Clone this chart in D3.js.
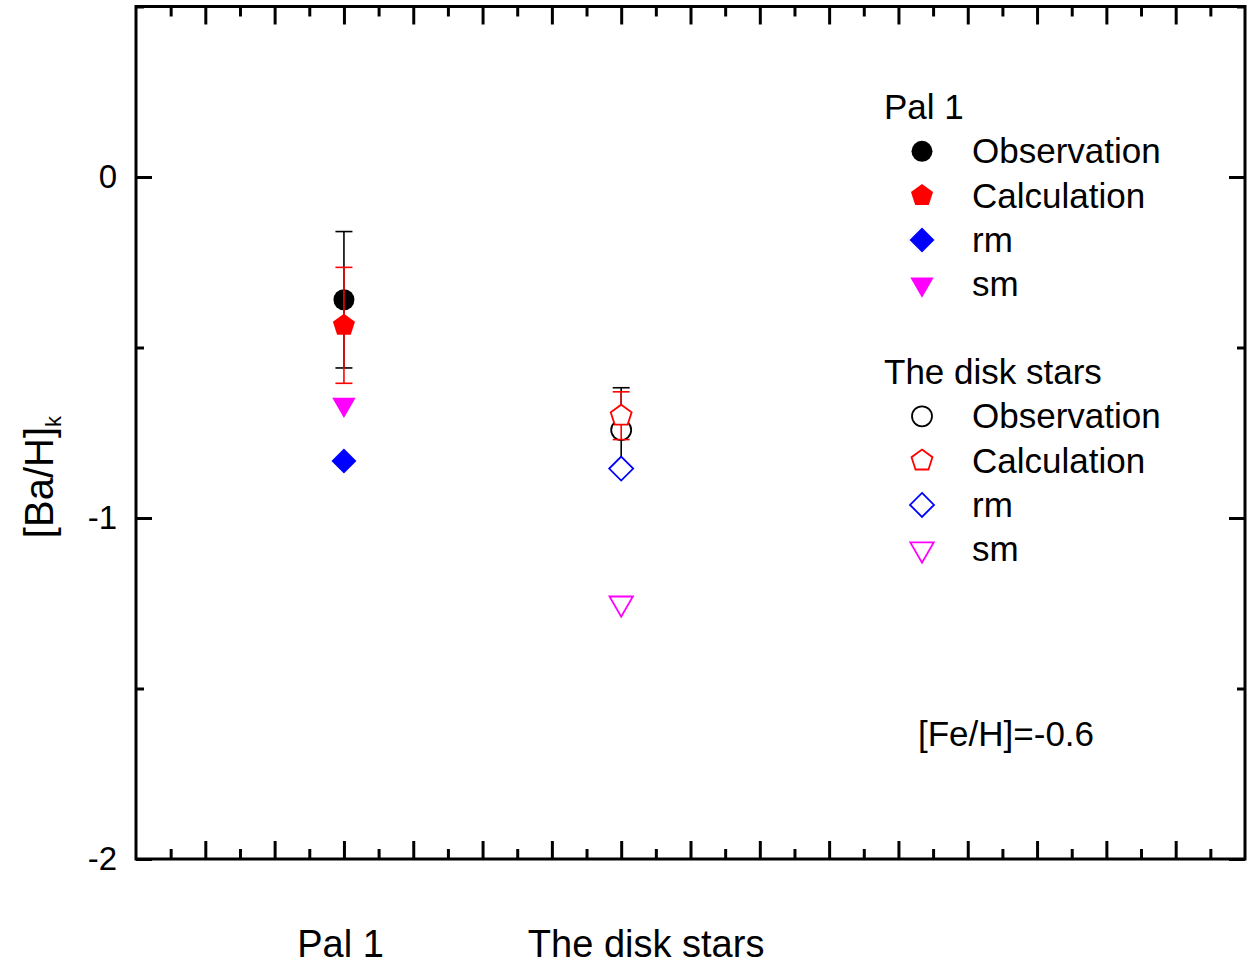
<!DOCTYPE html>
<html>
<head>
<meta charset="utf-8">
<script src="https://cdn.jsdelivr.net/npm/d3@7"></script>
<style>
  body { margin: 0; background: #fff; }
  text { font-family: Arial, "Liberation Sans", sans-serif; fill: #000; }
</style>
</head>
<body>
<script>
// data
var groups = ['Pal 1', 'The disk stars'];
var groupX = [3, 7];                 // position on the category axis
var obsVal  = [-0.36, -0.742];
var obsErr  = [0.20, 0.124];
var calcVal = [-0.435, -0.70];
var calcErr = [0.17, 0.07];
var rmVal   = [-0.833, -0.855];
var smVal   = [-0.667, -1.25];

var yTicks = [0, -1, -2];
var yMinor = [0.5, -0.5, -1.5];
var note = '[Fe/H]=-0.6';

var width = 1248, height = 965;
// plot box (note: "top" is a reserved window prop, so use plotT etc.)
var plotL = 136, plotR = 1245, plotT = 6.5, plotB = 859;

var x = d3.scaleLinear().domain([0, 16]).range([plotL, plotR]);
var y = d3.scaleLinear().domain([-2, 0.5]).range([plotB, plotT]);

var svg = d3.select('body').append('svg')
    .attr('width', width)
    .attr('height', height);

// custom marker shapes, size = radius in px
var pentagon = {
  draw: function(ctx, r) {
    for (var i = 0; i < 5; i++) {
      var a = -Math.PI / 2 + i * 2 * Math.PI / 5;
      if (i === 0) ctx.moveTo(r * Math.cos(a), r * Math.sin(a));
      else ctx.lineTo(r * Math.cos(a), r * Math.sin(a));
    }
    ctx.closePath();
  }
};
var diamond = {
  draw: function(ctx, r) {
    ctx.moveTo(0, -r); ctx.lineTo(r, 0); ctx.lineTo(0, r); ctx.lineTo(-r, 0); ctx.closePath();
  }
};
var triDown = {
  draw: function(ctx, r) {
    // r = circumradius, centroid at origin
    var h = r * Math.sqrt(3) / 2;
    ctx.moveTo(-h, -r / 2); ctx.lineTo(h, -r / 2); ctx.lineTo(0, r); ctx.closePath();
  }
};
var round = {
  draw: function(ctx, r) { ctx.moveTo(r, 0); ctx.arc(0, 0, r, 0, 2 * Math.PI); }
};

var series = [
  { name: 'Observation', vals: obsVal,  err: obsErr,  color: '#000000', type: round,    r: [10.5, 10] },
  { name: 'Calculation', vals: calcVal, err: calcErr, color: '#ff0000', type: pentagon, r: [11.6, 11] },
  { name: 'rm',          vals: rmVal,   err: null,    color: '#0000ff', type: diamond,  r: [12.5, 12] },
  { name: 'sm',          vals: smVal,   err: null,    color: '#ff00ff', type: triDown,  r: [13.5, 13.5] }
];

// frame
svg.append('rect')
    .attr('x', plotL).attr('y', plotT)
    .attr('width', plotR - plotL).attr('height', plotB - plotT)
    .attr('fill', 'none').attr('stroke', '#000').attr('stroke-width', 3);

// axes with inward ticks
function styleAxis(g) {
  g.select('.domain').remove();
  g.selectAll('.tick line').attr('stroke', '#000').attr('stroke-width', 3);
}
var xMajor = d3.range(1, 16), xMinor = d3.range(0.5, 16, 1);

svg.append('g').attr('transform', 'translate(0,' + plotB + ')')
    .call(d3.axisBottom(x).tickValues(xMajor).tickSize(-18).tickFormat(''))
    .call(styleAxis);
svg.append('g').attr('transform', 'translate(0,' + plotB + ')')
    .call(d3.axisBottom(x).tickValues(xMinor).tickSize(-10).tickFormat(''))
    .call(styleAxis);
svg.append('g').attr('transform', 'translate(0,' + plotT + ')')
    .call(d3.axisTop(x).tickValues(xMajor).tickSize(-18).tickFormat(''))
    .call(styleAxis);
svg.append('g').attr('transform', 'translate(0,' + plotT + ')')
    .call(d3.axisTop(x).tickValues(xMinor).tickSize(-10).tickFormat(''))
    .call(styleAxis);

svg.append('g').attr('transform', 'translate(' + plotL + ',0)')
    .call(d3.axisLeft(y).tickValues(yTicks).tickSize(-16).tickPadding(19)
        .tickFormat(function(d) { return String(d); }))
    .call(styleAxis)
    .selectAll('text').style('font-size', '33px').attr('font-family', null);
svg.append('g').attr('transform', 'translate(' + plotL + ',0)')
    .call(d3.axisLeft(y).tickValues(yMinor).tickSize(-8).tickFormat(''))
    .call(styleAxis);
svg.append('g').attr('transform', 'translate(' + plotR + ',0)')
    .call(d3.axisRight(y).tickValues(yTicks).tickSize(-16).tickFormat(''))
    .call(styleAxis);
svg.append('g').attr('transform', 'translate(' + plotR + ',0)')
    .call(d3.axisRight(y).tickValues(yMinor).tickSize(-8).tickFormat(''))
    .call(styleAxis);

// y label with subscript k
var ylab = svg.append('text')
    .attr('transform', 'translate(53,' + y(-0.88) + ') rotate(-90)')
    .attr('text-anchor', 'middle')
    .style('font-size', '40px');
ylab.append('tspan').text('[Ba/H]');
ylab.append('tspan').attr('dy', 8).style('font-size', '22px').text('k');

// category labels under the axis
var labelShift = [-0.05, 0.36];
svg.selectAll('.cat').data(groups).enter().append('text')
    .attr('class', 'cat')
    .attr('x', function(d, i) { return x(groupX[i] + labelShift[i]); })
    .attr('y', 957)
    .attr('text-anchor', 'middle')
    .style('font-size', '38px')
    .text(function(d) { return d; });

// points: error bars then markers, series by series
var cap = 8.5;
groups.forEach(function(g, gi) {
  var filled = gi === 0;
  series.forEach(function(s) {
    var cx = x(groupX[gi]), v = s.vals[gi];
    if (s.err) {
      var e = s.err[gi];
      var eb = svg.append('g').attr('stroke', s.color).attr('stroke-width', 1.6);
      eb.append('line').attr('x1', cx).attr('x2', cx).attr('y1', y(v + e)).attr('y2', y(v - e));
      eb.append('line').attr('x1', cx - cap).attr('x2', cx + cap).attr('y1', y(v + e)).attr('y2', y(v + e));
      eb.append('line').attr('x1', cx - cap).attr('x2', cx + cap).attr('y1', y(v - e)).attr('y2', y(v - e));
    }
    svg.append('path')
        .attr('transform', 'translate(' + cx + ',' + y(v) + ')')
        .attr('d', d3.symbol().type(s.type).size(s.r[gi])())
        .attr('fill', filled ? s.color : '#fff')
        .attr('stroke', s.color)
        .attr('stroke-width', filled ? 0 : 1.8);
  });
});

// legend
var legX = 884, symX = 922, txtX = 972, rowH = 44.3;
var legTops = [107, 372];
groups.forEach(function(g, gi) {
  var filled = gi === 0;
  svg.append('text').attr('x', legX).attr('y', legTops[gi] + 12)
      .style('font-size', '35px').text(g);
  series.forEach(function(s, si) {
    var cy = legTops[gi] + rowH * (si + 1);
    svg.append('path')
        .attr('transform', 'translate(' + symX + ',' + cy + ')')
        .attr('d', d3.symbol().type(s.type).size(s.r[gi])())
        .attr('fill', filled ? s.color : '#fff')
        .attr('stroke', s.color)
        .attr('stroke-width', filled ? 0 : 1.8);
    svg.append('text').attr('x', txtX).attr('y', cy + 12)
        .style('font-size', '35px').text(s.name);
  });
});

svg.append('text').attr('x', 918).attr('y', 746)
    .style('font-size', '35px').text(note);
</script>
</body>
</html>
